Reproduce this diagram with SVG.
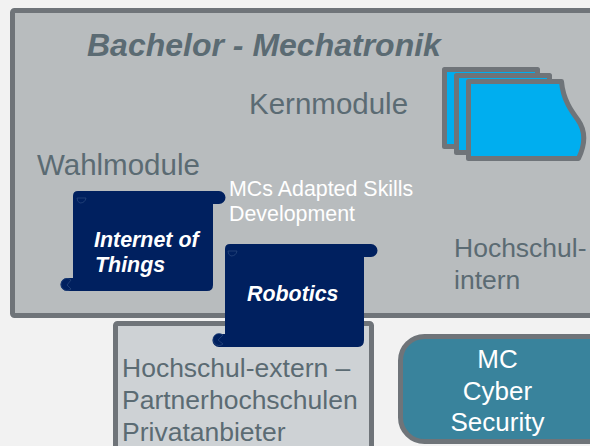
<svg xmlns="http://www.w3.org/2000/svg" width="590" height="446" viewBox="0 0 590 446">
<style>
text{font-family:"Liberation Sans",Arial,sans-serif}
.g{fill:#5b6b73;font-size:29.500px}
.s{fill:#5b6b73;font-size:26.500px}
.w{fill:#fff;font-size:21.400px}
.c{fill:#fff;font-size:26px;text-anchor:middle}
.b{fill:#fff;font-size:21.400px;font-weight:bold;font-style:italic}
.card{fill:#00aeef;stroke:#6f7479;stroke-width:5;stroke-linejoin:round}
.scroll{fill:#00205f}
.curl{fill:#00205f;stroke:#2b4a7f;stroke-width:.7}
</style>
<rect width="590" height="446" fill="#f2f2f2"/>
<g id="bachelor">
<rect x="12.500" y="10.500" width="600" height="305" rx="2" fill="#b8bcbe" stroke="#6f7479" stroke-width="5"/>
<text x="87" y="56" fill="#5b6b73" font-size="32" font-weight="bold" font-style="italic">Bachelor - Mechatronik</text>
<text x="249" y="114" class="g">Kernmodule</text>
<text x="37" y="175" class="g">Wahlmodule</text>
<text x="454" y="257" class="s">Hochschul-</text>
<text x="454" y="289" class="s">intern</text>
</g>
<g id="kernmodule-icon">
<path class="card" d="M444.500 69.500H537.500V146.500H444.500Z"/>
<path class="card" d="M456.500 75.500H549.500V152.500H456.500Z"/>
<path class="card" d="M468.500 81.500H561.500C563 100 572 112 578 120C585 130 586 143 578.500 158.500H468.500Z"/>
</g>
<g id="extern">
<rect x="115.500" y="323.500" width="256" height="140" rx="2" fill="#ced2d5" stroke="#6f7479" stroke-width="5"/>
<text x="122" y="377" class="s">Hochschul-extern –</text>
<text x="122" y="409" class="s">Partnerhochschulen</text>
<text x="122" y="441" class="s">Privatanbieter</text>
</g>
<g id="mc-cyber-security">
<rect x="400.500" y="336.500" width="220" height="105" rx="24" fill="#39839c" stroke="#6f7479" stroke-width="5"/>
<text x="497.500" y="368" class="c">MC</text>
<text x="497.500" y="400" class="c">Cyber</text>
<text x="497.500" y="431" class="c">Security</text>
</g>
<g id="internet-of-things">
<path class="scroll" d="M78 191H219A6.500 6.500 0 0 1 219 204H213V285Q213 291 207 291H67A6.500 6.500 0 0 1 67 278H73V196Q73 191 78 191Z"/>
<path class="curl" d="M77 198H86Q85 203 80 203Q77 202 77 198Z"/>
<path class="curl" d="M71 280A6 6 0 1 0 71 289L67 285Z"/>
<text x="94" y="247" class="b">Internet of</text>
<text x="95" y="272" class="b">Things</text>
</g>
<g id="mcs-adapted-skills">
<text x="229" y="196" class="w">MCs Adapted Skills</text>
<text x="229" y="221" class="w">Development</text>
</g>
<g id="robotics">
<path class="scroll" d="M230 244H371A6.500 6.500 0 0 1 371 257H364V340Q364 347 358 347H219A6.500 6.500 0 0 1 219 334H225V249Q225 244 230 244Z"/>
<path class="curl" d="M228 251H237Q236 256 231 256Q228 255 228 251Z"/>
<path class="curl" d="M223 335A6 6 0 1 0 223 344L218 340Z"/>
<text x="247" y="301" class="b">Robotics</text>
</g>
</svg>
